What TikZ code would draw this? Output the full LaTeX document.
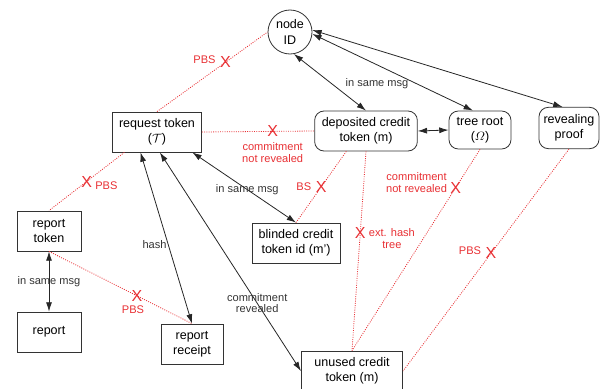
\documentclass[tikz,border=0pt]{standalone}
\usepackage{amsmath}
\usepackage{fontspec}
\setmainfont{Liberation Sans}
\usetikzlibrary{positioning,arrows.meta}

\definecolor{pbsred}{RGB}{232,48,52}
\tikzset{
  box/.style={draw=black!80, line width=0.6pt, rectangle, inner sep=1.5pt,
    minimum height=30pt, align=center, font=\fontsize{9.4}{11.5}\selectfont},
  rbox/.style={box, rounded corners=7pt},
  link/.style={{Latex[length=7pt,width=4.5pt]}-{Latex[length=7pt,width=4.5pt]},
    line width=0.6pt, black!85},
  leak/.style={pbsred, line width=0.6pt, dash pattern=on 0.7pt off 1pt},
  xmark/.style={text=pbsred, font=\fontsize{12}{12}\selectfont, inner sep=0pt},
  lbl/.style={font=\fontsize{8.3}{8.7}\selectfont, align=center, inner sep=1pt, text=black!80},
  rlbl/.style={lbl, text=pbsred},
}

\begin{document}
\begin{tikzpicture}[x=0.75pt,y=-0.75pt]
  \useasboundingbox (0,0) rectangle (600,389);

  % identities and tokens
  \node[circle, draw=black!80, line width=0.6pt, minimum size=33pt, inner sep=0pt,
    align=center, font=\fontsize{9.4}{11.5}\selectfont] (nid) at (290,32) {node\\ID};
  \node[box, minimum width=66.75pt] (req) at (157,132) {request token\\(\(\mathcal{T}\))};
  \node[rbox, minimum width=77pt] (dep) at (366,131) {deposited credit\\token (m)};
  \node[rbox, minimum width=46.5pt, minimum height=28.5pt] (tree) at (480,130) {tree root\\(\(\varOmega\))};
  \node[rbox, minimum width=45pt, minimum height=31pt] (rev) at (569,128) {revealing\\proof};
  \node[box, minimum width=48pt] (rtok) at (49,231) {report\\token};
  \node[box, minimum width=48pt] (rep) at (49,332) {report};
  \node[box, minimum width=46.5pt] (rrec) at (192,344) {report\\receipt};
  \node[box, minimum width=66pt] (blind) at (296,243) {blinded credit\\token id (m')};
  \node[box, minimum width=76pt] (unu) at (352,371) {unused credit\\token (m)};

  % links that hold
  \draw[link] (nid.-80) -- (dep.north);
  \draw[link] (nid.-5) -- (tree.110);
  \draw[link] (nid.5) -- (rev.107);
  \node[lbl] (msgc) at (377,84) {in same msg};
  \draw[link] (dep.east) -- (tree.west);
  \draw[link] (req.231) -- node[lbl, left, pos=.54] (hashlbl) {hash} (rrec.north);
  \draw[link] (req.278) -- node[lbl, pos=.69] (revlbl) {commitment\\revealed} (unu.west);
  \draw[link] (req.-30) -- node[lbl, pos=.53] (msgb) {in same msg} (blind.north);
  \draw[link] (rtok.south) -- node[lbl] (msga) {in same msg} (rep.north);

  % links that are broken
  \draw[leak] (req.north) -- node[xmark, pos=.62] (x1) {X} (nid.west);
  \node[rlbl, left=2pt of x1, yshift=2pt] (l1) {PBS};
  \draw[leak] (req.east) -- node[xmark, pos=.63] (x2) {X} (dep.west);
  \node[rlbl, below=3pt of x2] (l2) {commitment\\not revealed};
  \draw[leak] (req.212) -- node[xmark, pos=.5] (x3) {X} (rtok.north);
  \node[rlbl, right=1pt of x3, yshift=-3pt] (l3) {PBS};
  \draw[leak] (rtok.south) -- node[xmark, pos=.615] (x4) {X} (rrec.north);
  \node[rlbl, below=2pt of x4, xshift=-3pt] (l4) {PBS};
  \draw[leak] (dep.226) -- node[xmark, pos=.5] (x5) {X} (blind.north);
  \node[rlbl, left=2pt of x5] (l5) {BS};
  \draw[leak] (dep.south) -- node[xmark, pos=.41] (x6) {X} (unu.north);
  \node[rlbl, right=1pt of x6, yshift=-4pt] (l6) {ext. hash\\[0.8pt]tree};
  \draw[leak] (tree.south) -- node[xmark, pos=.19] (x7) {X} (unu.north);
  \node[rlbl, left=1pt of x7, yshift=4pt] (l7) {commitment\\not revealed};
  \draw[leak] (rev.south) -- node[xmark, pos=.47] (x8) {X} (unu.east);
  \node[rlbl, left=2pt of x8, yshift=2pt] (l8) {PBS};
\end{tikzpicture}
\end{document}
